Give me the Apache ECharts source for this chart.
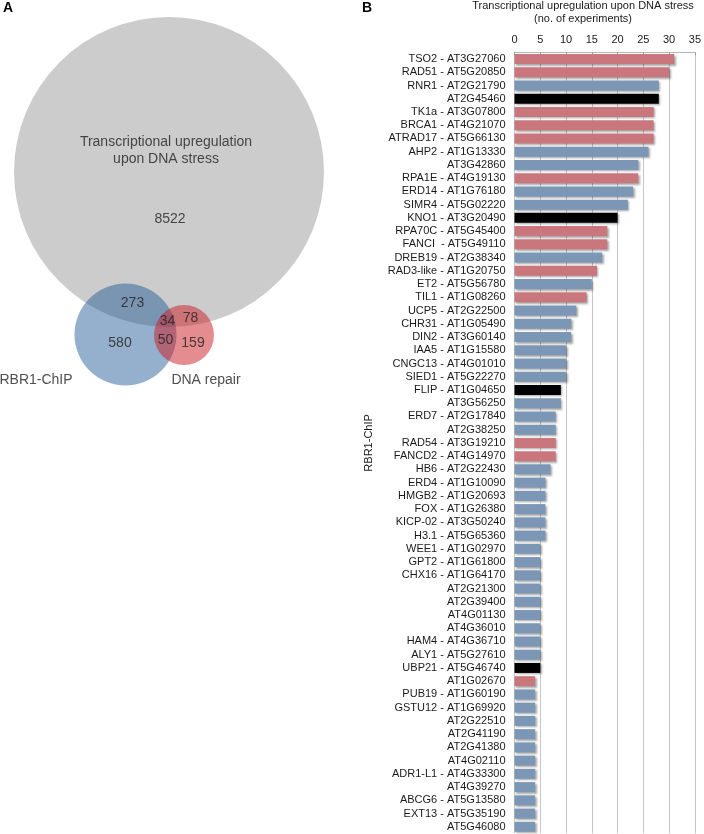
<!DOCTYPE html>
<html><head><meta charset="utf-8">
<script src="https://cdn.jsdelivr.net/npm/echarts@6/dist/echarts.min.js"></script>
<style>html,body{margin:0;padding:0;background:#fff}#c{width:704px;height:834px}</style>
</head><body><div id="c"></div>
<script>
// ---- Panel B data ----
const genes = [
 'TSO2 - AT3G27060','RAD51 - AT5G20850','RNR1 - AT2G21790','AT2G45460','TK1a - AT3G07800',
 'BRCA1 - AT4G21070','ATRAD17 - AT5G66130','AHP2 - AT1G13330','AT3G42860','RPA1E - AT4G19130',
 'ERD14 - AT1G76180','SIMR4 - AT5G02220','KNO1 - AT3G20490','RPA70C - AT5G45400','FANCI  - AT5G49110',
 'DREB19 - AT2G38340','RAD3-like - AT1G20750','ET2 - AT5G56780','TIL1 - AT1G08260','UCP5 - AT2G22500',
 'CHR31 - AT1G05490','DIN2 - AT3G60140','IAA5 - AT1G15580','CNGC13 - AT4G01010','SIED1 - AT5G22270',
 'FLIP - AT1G04650','AT3G56250','ERD7 - AT2G17840','AT2G38250','RAD54 - AT3G19210',
 'FANCD2 - AT4G14970','HB6 - AT2G22430','ERD4 - AT1G10090','HMGB2 - AT1G20693','FOX - AT1G26380',
 'KICP-02 - AT3G50240','H3.1 - AT5G65360','WEE1 - AT1G02970','GPT2 - AT1G61800','CHX16 - AT1G64170',
 'AT2G21300','AT2G39400','AT4G01130','AT4G36010','HAM4 - AT4G36710',
 'ALY1 - AT5G27610','UBP21 - AT5G46740','AT1G02670','PUB19 - AT1G60190','GSTU12 - AT1G69920',
 'AT2G22510','AT2G41190','AT2G41380','AT4G02110','ADR1-L1 - AT4G33300',
 'AT4G39270','ABCG6 - AT5G13580','EXT13 - AT5G35190','AT5G46080'
];
const experiments = [31,30,28,28,27,27,27,26,24,24,23,22,20,18,18,17,16,15,14,12,11,11,10,10,10,9,9,8,8,8,8,7,6,6,6,6,6,5,5,5,5,5,5,5,5,5,5,4,4,4,4,4,4,4,4,4,4,4,4];
const geneGroup = ['R','R','B','K','R','R','R','B','B','R','B','B','K','R','R','B','R','B','R','B','B','B','B','B','B','K','B','B','B','R','R','B','B','B','B','B','B','B','B','B','B','B','B','B','B','B','K','R','B','B','B','B','B','B','B','B','B','B','B'];
const xTicks = [0,5,10,15,20,25,30,35];

// ---- Panel A data ----
const vennSets = ['Transcriptional upregulation\nupon DNA stress', 'RBR1-ChIP', 'DNA repair'];
const regionCounts = ['8522','273','580','34','78','50','159'];

// ---- layout / style (not data) ----
const groupColor = {R:'#c9777c', B:'#7b97b5', K:'#000000'};
const vennCircleLayout = [[169,172,155],[125.5,334.5,51],[184,335,30]];
const vennCircleFill = ['#cccccc','rgba(30,87,147,0.47)','rgba(203,25,33,0.5)'];
const vennSetLabelPos = [[166,150.5],[36,380],[206,380]];
const regionLabelPos = [[170,219],[132.5,303.5],[120,343],[167.5,321],[190.5,318],[165.5,340],[193,343.5]];

const FONT = "'Liberation Sans', Arial, sans-serif";
const chart = echarts.init(document.getElementById('c'), null, {renderer:'canvas'});

const labelData = [];
vennSets.forEach((s,i)=>labelData.push({name:s, value:vennSetLabelPos[i]}));
regionCounts.forEach((s,i)=>labelData.push({name:s, value:regionLabelPos[i]}));

chart.setOption({
  animation:false,
  textStyle:{fontFamily:FONT},
  title:[
    {text:'A', left:3, top:1, padding:0, textStyle:{fontSize:14, fontWeight:'bold', color:'#000', fontFamily:FONT}},
    {text:'B', left:362, top:1, padding:0, textStyle:{fontSize:14, fontWeight:'bold', color:'#000', fontFamily:FONT}},
    {text:'Transcriptional upregulation upon DNA stress\n(no. of experiments)', left:583, top:-1, padding:0, textAlign:'center',
     textStyle:{fontSize:11, fontWeight:'normal', color:'#1a1a1a', lineHeight:13, fontFamily:FONT}}
  ],
  grid:[
    {left:0, top:0, width:360, height:420},
    {left:514.5, right:5.5, top:52.4, bottom:0.6}
  ],
  xAxis:[
    {gridIndex:0, type:'value', min:0, max:360, show:false},
    {gridIndex:1, type:'value', position:'top', min:0, max:35, interval:5,
     axisLine:{show:true, lineStyle:{color:'#b5b5b5', width:1}},
     axisTick:{show:true, inside:true, length:3, lineStyle:{color:'#999'}},
     splitLine:{show:true, lineStyle:{color:'#c6c6c6', width:1}},
     axisLabel:{fontSize:11, color:'#1a1a1a', margin:7, fontFamily:FONT,
       formatter:v=>xTicks.includes(v)?String(v):''}}
  ],
  yAxis:[
    {gridIndex:0, type:'value', min:0, max:420, inverse:true, show:false},
    {gridIndex:1, type:'category', data:genes, inverse:true,
     axisLine:{show:false}, axisTick:{show:false},
     axisLabel:{fontSize:11, color:'#1a1a1a', margin:9, interval:0, fontFamily:FONT},
     name:'RBR1-ChIP', nameLocation:'middle', nameGap:140, nameRotate:90,
     nameTextStyle:{fontSize:11, color:'#1a1a1a', fontFamily:FONT}}
  ],
  series:[
    {type:'custom', xAxisIndex:0, yAxisIndex:0, silent:true,
     data:vennCircleLayout,
     encode:{x:0, y:1},
     renderItem:function(params, api){
       const c = api.coord([api.value(0), api.value(1)]);
       const r = api.size([api.value(2), 0])[0];
       return {type:'circle', shape:{cx:c[0], cy:c[1], r:r}, style:{fill:vennCircleFill[params.dataIndex]}};
     }},
    {type:'scatter', xAxisIndex:0, yAxisIndex:0, silent:true, symbolSize:1,
     itemStyle:{color:'transparent'},
     data:labelData,
     label:{show:true, position:'inside', formatter:'{b}', fontSize:14, color:'#222', lineHeight:17, align:'center', fontFamily:FONT}},
    {type:'bar', xAxisIndex:1, yAxisIndex:1, barWidth:10, silent:true,
     data:experiments.map((v,i)=>({value:v, itemStyle:{color:groupColor[geneGroup[i]]}})),
     itemStyle:{shadowColor:'rgba(0,0,0,0.35)', shadowBlur:2, shadowOffsetX:1.5, shadowOffsetY:1.5}}
  ]
});
</script></body></html>
